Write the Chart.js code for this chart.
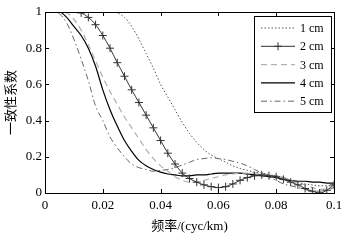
<!DOCTYPE html>
<html lang="zh">
<head>
  <meta charset="UTF-8" />
  <title>一致性系数</title>
  <script src="https://cdn.jsdelivr.net/npm/chart.js"></script>
  <style>
    html, body { margin: 0; padding: 0; background: #fff; }
    #wrap { width: 355px; height: 240px; }
  </style>
</head>
<body>
  <div id="wrap"><canvas id="chart" width="355" height="240"></canvas></div>

  <script>
    // frequency (cyc/km)
    const freq = [0, 0.0025, 0.005, 0.0075, 0.01, 0.0125, 0.015, 0.0175, 0.02, 0.0225,
      0.025, 0.0275, 0.03, 0.0325, 0.035, 0.0375, 0.04, 0.0425, 0.045, 0.0475,
      0.05, 0.0525, 0.055, 0.0575, 0.06, 0.0625, 0.065, 0.0675, 0.07, 0.0725,
      0.075, 0.0775, 0.08, 0.0825, 0.085, 0.0875, 0.09, 0.0925, 0.095, 0.0975, 0.1];

    const cm1 = [1, 1, 1, 1, 1, 1, 1, 1, 1, 1,
      0.995, 0.97, 0.92, 0.85, 0.77, 0.69, 0.6, 0.53, 0.46, 0.39,
      0.33, 0.28, 0.24, 0.21, 0.19, 0.17, 0.15, 0.135, 0.125, 0.115,
      0.11, 0.1, 0.095, 0.085, 0.07, 0.06, 0.05, 0.045, 0.04, 0.04, 0.05];
    const cm2 = [1, 1, 1, 1, 1, 0.995, 0.97, 0.93, 0.87, 0.8,
      0.72, 0.645, 0.57, 0.5, 0.43, 0.36, 0.29, 0.22, 0.16, 0.11,
      0.08, 0.06, 0.045, 0.035, 0.03, 0.035, 0.05, 0.07, 0.085, 0.095,
      0.1, 0.095, 0.09, 0.075, 0.06, 0.045, 0.025, 0.01, 0.0, 0.015, 0.045];
    const cm3 = [1, 1, 1, 0.995, 0.96, 0.9, 0.82, 0.73, 0.64, 0.56,
      0.49, 0.42, 0.36, 0.3, 0.24, 0.19, 0.15, 0.12, 0.09, 0.07,
      0.06, 0.06, 0.07, 0.08, 0.09, 0.1, 0.105, 0.11, 0.11, 0.11,
      0.11, 0.1, 0.095, 0.085, 0.07, 0.055, 0.045, 0.03, 0.02, 0.025, 0.05];
    const cm4 = [1, 1, 1, 0.97, 0.92, 0.87, 0.8, 0.7, 0.57, 0.46,
      0.37, 0.29, 0.23, 0.18, 0.15, 0.13, 0.115, 0.105, 0.1, 0.095,
      0.095, 0.1, 0.1, 0.105, 0.11, 0.11, 0.11, 0.11, 0.105, 0.1,
      0.095, 0.09, 0.085, 0.075, 0.07, 0.065, 0.065, 0.06, 0.06, 0.055, 0.055];
    const cm5 = [1, 1, 0.99, 0.94, 0.85, 0.74, 0.62, 0.48, 0.4, 0.31,
      0.25, 0.2, 0.16, 0.14, 0.13, 0.12, 0.125, 0.13, 0.14, 0.155,
      0.17, 0.185, 0.19, 0.195, 0.19, 0.185, 0.175, 0.165, 0.15, 0.13,
      0.11, 0.09, 0.07, 0.05, 0.04, 0.03, 0.02, 0.01, 0.01, 0.015, 0.03];

    const seriesNames = ['1 cm', '2 cm', '3 cm', '4 cm', '5 cm'];
    const xTicks = [0, 0.02, 0.04, 0.06, 0.08, 0.1];
    const yTicks = [0, 0.2, 0.4, 0.6, 0.8, 1];

    const serif = '"Liberation Serif", "Noto Sans CJK SC", serif';
    const pts = arr => arr.map((v, i) => ({ x: freq[i], y: v }));

    // inward ticks on all four sides + frame, Matlab style
    const frame = {
      id: 'frame',
      afterDatasetsDraw(chart) {
        const { ctx, chartArea: a, scales: { x, y } } = chart;
        ctx.save();
        ctx.strokeStyle = '#000';
        ctx.lineWidth = 1;
        ctx.beginPath();
        xTicks.forEach(t => {
          const px = Math.round(x.getPixelForValue(t)) + 0.5;
          ctx.moveTo(px, a.bottom); ctx.lineTo(px, a.bottom - 4);
          ctx.moveTo(px, a.top); ctx.lineTo(px, a.top + 4);
        });
        yTicks.forEach(t => {
          const py = Math.round(y.getPixelForValue(t)) + 0.5;
          ctx.moveTo(a.left, py); ctx.lineTo(a.left + 4, py);
          ctx.moveTo(a.right, py); ctx.lineTo(a.right - 4, py);
        });
        ctx.stroke();
        ctx.strokeRect(Math.round(a.left) + 0.5, Math.round(a.top) + 0.5,
          Math.round(a.right - a.left), Math.round(a.bottom - a.top));
        ctx.restore();
      }
    };

    // boxed legend in the upper right corner
    const boxLegend = {
      id: 'boxLegend',
      afterDraw(chart) {
        const ctx = chart.ctx;
        const bx = 254, by = 16, bw = 77, bh = 96;
        ctx.save();
        ctx.fillStyle = '#fff';
        ctx.fillRect(bx, by, bw, bh);
        ctx.strokeStyle = '#000';
        ctx.lineWidth = 1;
        ctx.strokeRect(bx + 0.5, by + 0.5, bw, bh);
        chart.data.datasets.forEach((ds, i) => {
          const yy = 28 + i * 18.3;
          ctx.strokeStyle = ds.borderColor;
          ctx.lineWidth = ds.borderWidth;
          ctx.setLineDash(ds.borderDash || []);
          ctx.beginPath();
          ctx.moveTo(261, yy); ctx.lineTo(295, yy);
          ctx.stroke();
          ctx.setLineDash([]);
          if (ds.legendMarker) {
            ctx.beginPath();
            ctx.moveTo(278, yy - 4); ctx.lineTo(278, yy + 4);
            ctx.moveTo(274, yy); ctx.lineTo(282, yy);
            ctx.stroke();
          }
          ctx.fillStyle = '#000';
          ctx.font = '12px ' + serif;
          ctx.textBaseline = 'middle';
          ctx.fillText(ds.label, 300, yy + 1);
        });
        ctx.restore();
      }
    };

    new Chart(document.getElementById('chart'), {
      type: 'line',
      data: {
        datasets: [
          { label: seriesNames[0], data: pts(cm1), borderColor: '#555', borderWidth: 1,
            borderDash: [1.5, 2], pointRadius: 0 },
          { label: seriesNames[1], data: pts(cm2), borderColor: '#333', borderWidth: 1,
            pointStyle: 'cross', pointBorderColor: '#333', pointBorderWidth: 1,
            pointRadius: ctx => (ctx.raw && ctx.raw.y >= 1 ? 0 : 4), legendMarker: true },
          { label: seriesNames[2], data: pts(cm3), borderColor: '#b0b0b0', borderWidth: 1.2,
            borderDash: [6, 4], pointRadius: 0 },
          { label: seriesNames[3], data: pts(cm4), borderColor: '#000', borderWidth: 1.2,
            pointRadius: 0 },
          { label: seriesNames[4], data: pts(cm5), borderColor: '#666', borderWidth: 1,
            borderDash: [6, 3, 1.5, 3], pointRadius: 0 }
        ]
      },
      options: {
        responsive: false,
        animation: false,
        cubicInterpolationMode: 'monotone',
        layout: { padding: { top: 12, right: 21, left: 0, bottom: 0 } },
        plugins: { legend: { display: false }, tooltip: { enabled: false } },
        scales: {
          x: {
            type: 'linear', min: 0, max: 0.1,
            afterFit: s => { s.height = 47; },
            afterBuildTicks: s => { s.ticks = xTicks.map(v => ({ value: v })); },
            grid: { display: false, drawTicks: false },
            border: { display: false },
            ticks: { color: '#000', padding: 5, maxRotation: 0,
              font: { family: serif, size: 13 },
              callback: v => String(+v.toFixed(2)) },
            title: { display: true, text: '频率/(cyc/km)', color: '#000',
              font: { family: serif, size: 13 }, padding: { top: 0, bottom: 6 } }
          },
          y: {
            min: 0, max: 1,
            afterFit: s => { s.width = 45; },
            afterBuildTicks: s => { s.ticks = yTicks.map(v => ({ value: v })); },
            grid: { display: false, drawTicks: false },
            border: { display: false },
            ticks: { color: '#000', padding: 3,
              font: { family: serif, size: 13 },
              callback: v => String(+v.toFixed(1)) },
            title: { display: true, text: '一致性系数', color: '#000',
              font: { family: serif, size: 13 }, padding: { top: 4, bottom: 0 } }
          }
        }
      },
      plugins: [frame, boxLegend]
    });
  </script>
</body>
</html>
